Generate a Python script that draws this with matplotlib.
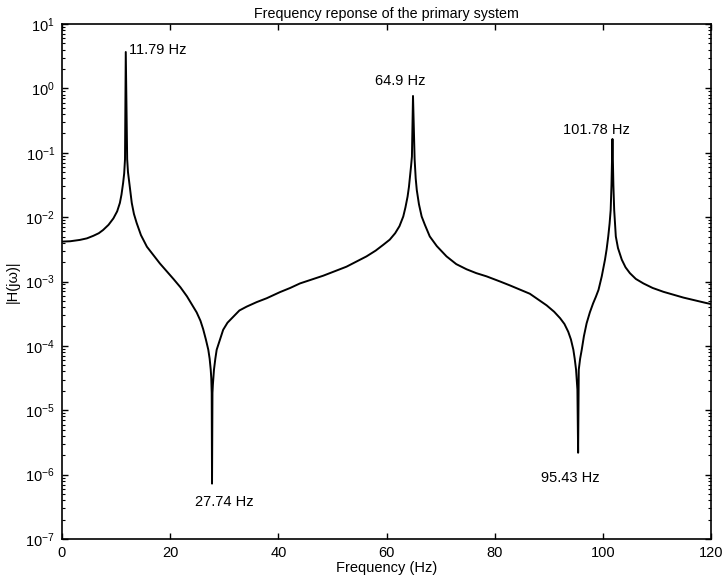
import matplotlib
matplotlib.use("Agg")
import numpy as np
import matplotlib.pyplot as plt
from matplotlib.ticker import LogLocator, FixedLocator, NullFormatter

# Magnitude of the primary system's frequency response, given in decades (log10 |H|)
freq_hz = [
    0.0, 1.5, 3.3, 4.6, 5.8, 6.8, 7.6, 8.6, 9.5, 10.2, 10.7, 11.0, 11.3,
    11.5, 11.65, 11.79, 12.05, 12.2, 12.45, 12.65, 12.9, 13.3, 13.8, 14.6,
    15.7, 17.0, 18.1, 20.6, 21.9, 23.1, 24.9, 25.6, 26.1, 26.6, 27.05,
    27.3, 27.5, 27.6, 27.68, 27.74, 27.82, 27.9, 28.1, 28.35, 28.6, 29.1,
    29.8, 30.6, 31.7, 32.8, 34.15, 36.0, 37.85, 39.0, 40.3, 42.2, 44.0,
    48.3, 52.6, 56.3, 58.0, 59.4, 60.6, 61.6, 62.4, 63.1, 63.5, 63.9,
    64.15, 64.35, 64.55, 64.7, 64.9, 65.2, 65.4, 65.6, 66.0, 66.5, 67.1,
    68.0, 69.3, 71.1, 72.9, 74.8, 76.6, 78.5, 81.0, 82.8, 86.5, 89.6,
    91.0, 92.1, 92.9, 93.6, 94.1, 94.55, 94.8, 95.05, 95.3, 95.43, 95.55,
    95.8, 96.1, 96.5, 97.0, 97.6, 98.2, 98.7, 99.2, 99.8, 100.4, 100.7,
    101.0, 101.25, 101.45, 101.6, 101.78, 101.95, 102.1, 102.25, 102.4,
    102.8, 103.5, 104.2, 105.0, 106.1, 107.5, 109.2, 111.2, 114.9, 118.9,
    120.0,
]
log_magnitude = [
    -2.38, -2.375, -2.354, -2.33, -2.29, -2.25, -2.20, -2.12, -2.02, -1.91,
    -1.78, -1.65, -1.47, -1.32, -1.10, 0.565, -1.10, -1.30, -1.47, -1.62,
    -1.78, -1.95, -2.09, -2.28, -2.46, -2.60, -2.72, -2.96, -3.09, -3.23,
    -3.48, -3.61, -3.74, -3.90, -4.06, -4.20, -4.37, -4.50, -4.73, -6.14,
    -4.73, -4.60, -4.37, -4.20, -4.06, -3.93, -3.75, -3.64, -3.545, -3.45,
    -3.39, -3.32, -3.26, -3.215, -3.165, -3.10, -3.03, -2.91, -2.77, -2.61,
    -2.52, -2.43, -2.35, -2.25, -2.14, -1.99, -1.85, -1.68, -1.53, -1.37,
    -1.20, -1.06, -0.118, -1.10, -1.40, -1.58, -1.80, -1.99, -2.12, -2.30,
    -2.45, -2.61, -2.73, -2.81, -2.87, -2.92, -3.00, -3.06, -3.19, -3.37,
    -3.47, -3.57, -3.66, -3.78, -3.90, -4.06, -4.20, -4.37, -4.68, -5.66,
    -4.37, -4.20, -4.06, -3.85, -3.65, -3.48, -3.34, -3.24, -3.13, -2.92,
    -2.66, -2.50, -2.30, -2.10, -1.89, -1.50, -0.786, -1.50, -1.89, -2.10,
    -2.30, -2.48, -2.66, -2.78, -2.87, -2.96, -3.03, -3.10, -3.16, -3.25,
    -3.33, -3.35,
]

# Resonance / anti-resonance annotations
label_text = ["11.79 Hz", "64.9 Hz", "101.78 Hz", "27.74 Hz", "95.43 Hz"]
label_x = [12.4, 62.6, 98.75, 30.1, 93.9]
label_y = [3.95, 1.28, 0.226, 3.8e-7, 8.9e-7]
label_ha = ["left", "center", "center", "center", "center"]

x_ticks = [0, 20, 40, 60, 80, 100, 120]

plt.rcParams["font.family"] = ["Liberation Sans", "DejaVu Sans"]
plt.rcParams["mathtext.fontset"] = "custom"
plt.rcParams["mathtext.rm"] = "Liberation Sans"
plt.rcParams["mathtext.it"] = "Liberation Sans:italic"
plt.rcParams["mathtext.bf"] = "Liberation Sans:bold"

fig = plt.figure(figsize=(7.24, 5.87), dpi=100)
ax = fig.add_axes([62 / 724, 1 - 539 / 587, (711 - 62) / 724, (539 - 24) / 587])

magnitude = 10.0 ** np.asarray(log_magnitude)
ax.plot(freq_hz, magnitude, color="black", linewidth=1.4)

ax.set_yscale("log")
ax.set_xlim(0, 120)
ax.set_ylim(1e-7, 1e1)

ax.xaxis.set_major_locator(FixedLocator(x_ticks))
ax.yaxis.set_major_locator(LogLocator(base=10, numticks=20))
ax.yaxis.set_minor_locator(LogLocator(base=10, subs=range(2, 10), numticks=20))
ax.yaxis.set_minor_formatter(NullFormatter())

ax.tick_params(which="both", direction="in", top=True, right=True,
               labelsize=10.5, colors="black")
ax.tick_params(which="major", length=4.3, width=1.0, pad=5)
ax.tick_params(which="minor", length=2.2, width=0.8)
for s in ax.spines.values():
    s.set_linewidth(1.2)

for t, x, y, ha in zip(label_text, label_x, label_y, label_ha):
    ax.text(x, y, t, ha=ha, va="center", fontsize=10.5)

ax.set_title("Frequency reponse of the primary system", fontsize=10.3, pad=4)
ax.set_xlabel("Frequency (Hz)", fontsize=10.5, labelpad=1)
ax.set_ylabel("|H(jω)|", fontsize=10.5, labelpad=4)

fig.savefig("out.png", dpi=100)
